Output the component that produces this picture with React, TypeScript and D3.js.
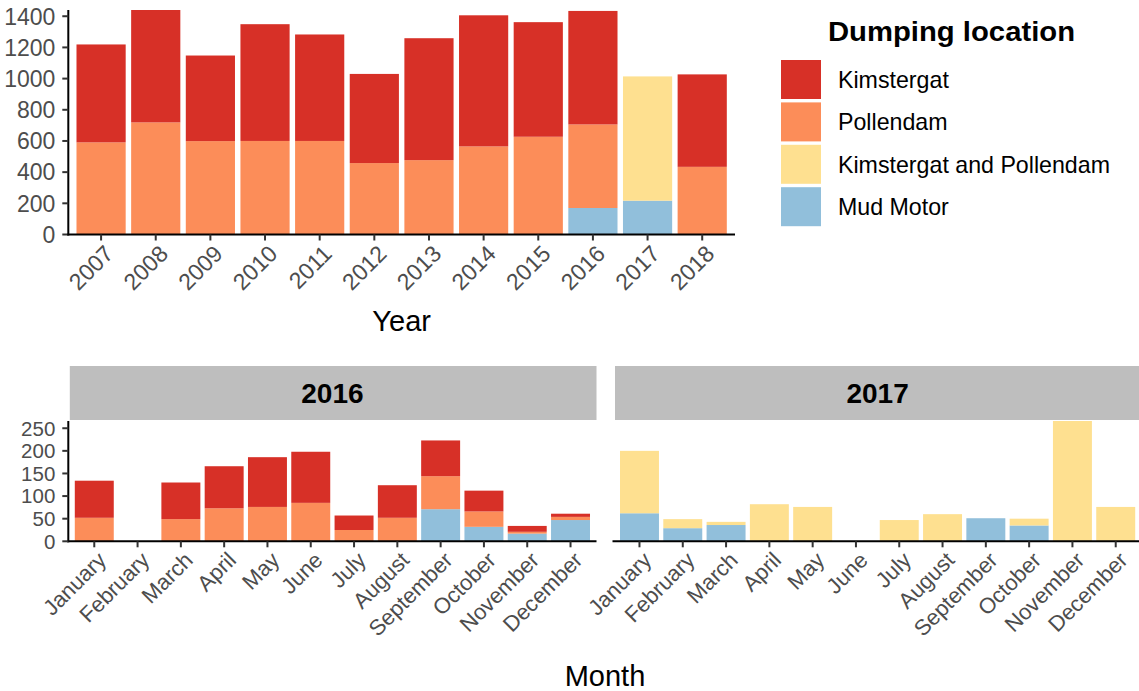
import React from "react";
import * as d3 from "d3";

const years = ["2007","2008","2009","2010","2011","2012","2013","2014","2015","2016","2017","2018"];
const yearKimstergat = [628, 721, 549, 749, 683, 572, 782, 841, 735, 728, 0, 593];
const yearPollendam = [591, 719, 599, 600, 600, 458, 477, 565, 627, 536, 0, 434];
const yearBoth = [0, 0, 0, 0, 0, 0, 0, 0, 0, 0, 797, 0];
const yearMud = [0, 0, 0, 0, 0, 0, 0, 0, 0, 170, 217, 0];
const yearTicks = [0, 200, 400, 600, 800, 1000, 1200, 1400];

const months = ["January","February","March","April","May","June","July","August","September","October","November","December"];
const facets = ["2016", "2017"];
const m2016Kimstergat = [82, 0, 81, 93, 110, 113, 32, 72, 79, 46, 13, 7];
const m2016Pollendam = [52, 0, 49, 73, 76, 85, 25, 52, 73, 34, 4, 7];
const m2016Both = [0, 0, 0, 0, 0, 0, 0, 0, 0, 0, 0, 0];
const m2016Mud = [0, 0, 0, 0, 0, 0, 0, 0, 71, 32, 17, 47];
const m2017Kimstergat = [0, 0, 0, 0, 0, 0, 0, 0, 0, 0, 0, 0];
const m2017Pollendam = [0, 0, 0, 0, 0, 0, 0, 0, 0, 0, 0, 0];
const m2017Both = [138, 20, 7, 82, 76, 0, 47, 60, 0, 15, 266, 76];
const m2017Mud = [62, 29, 36, 0, 0, 0, 0, 0, 51, 35, 0, 0];
const monthTicks = [0, 50, 100, 150, 200, 250];

const locations = ["Kimstergat", "Pollendam", "Kimstergat and Pollendam", "Mud Motor"];
const colors = ["#D73027", "#FC8D59", "#FEE090", "#91BFDB"];

const FONT = "'Liberation Sans', Arial, Helvetica, sans-serif";
const TICK_COLOR = "#4D4D4D";

type Row = { cat: string; [k: string]: number | string };

function buildRows(cats: string[], k: number[], p: number[], b: number[], m: number[]): Row[] {
  return cats.map((c, i) => ({
    cat: c,
    "Kimstergat": k[i],
    "Pollendam": p[i],
    "Kimstergat and Pollendam": b[i],
    "Mud Motor": m[i],
  }));
}

// stacking order bottom->top: Mud Motor, K&P, Pollendam, Kimstergat
const stackKeys = [...locations].reverse();

function Bars({ rows, x, y }: { rows: Row[]; x: d3.ScaleBand<string>; y: d3.ScaleLinear<number, number> }) {
  const series = d3.stack<Row>().keys(stackKeys).value((d, key) => d[key] as number)(rows);
  return (
    <g>
      {series.map((s) => {
        const ci = locations.indexOf(s.key);
        return s.map((d, i) => {
          const h = y(d[0]) - y(d[1]);
          if (h <= 0) return null;
          return (
            <rect key={s.key + i} x={x(rows[i].cat)} width={x.bandwidth()} y={y(d[1])} height={h} fill={colors[ci]} />
          );
        });
      })}
    </g>
  );
}

function XAxis({ x, y0, labels, fontSize }: { x: d3.ScaleBand<string>; y0: number; labels: string[]; fontSize: number }) {
  const [r0, r1] = x.range();
  return (
    <g>
      <line x1={r0 - 1} x2={r1} y1={y0} y2={y0} stroke="#000" strokeWidth={2} />
      {labels.map((l) => {
        const cx = (x(l) as number) + x.bandwidth() / 2;
        return (
          <g key={l}>
            <line x1={cx} x2={cx} y1={y0} y2={y0 + 6} stroke="#333" strokeWidth={2} />
            <text
              transform={`translate(${cx + 2},${y0 + 9}) rotate(-45)`}
              textAnchor="end"
              dy="0.72em"
              fontSize={fontSize}
              fill={TICK_COLOR}
              fontFamily={FONT}
            >
              {l}
            </text>
          </g>
        );
      })}
    </g>
  );
}

function YAxis({ y, x0, ticks, fontSize }: { y: d3.ScaleLinear<number, number>; x0: number; ticks: number[]; fontSize: number }) {
  const [d0, d1] = y.range();
  return (
    <g>
      <line x1={x0} x2={x0} y1={d0 + 1} y2={d1} stroke="#000" strokeWidth={2} />
      {ticks.map((t) => (
        <g key={t}>
          <line x1={x0 - 6} x2={x0} y1={y(t)} y2={y(t)} stroke="#333" strokeWidth={2} />
          <text x={x0 - 13} y={y(t)} dy="0.36em" textAnchor="end" fontSize={fontSize} fill={TICK_COLOR} fontFamily={FONT}>
            {t}
          </text>
        </g>
      ))}
    </g>
  );
}

export default function App() {
  // Top chart
  const yearRows = buildRows(years, yearKimstergat, yearPollendam, yearBoth, yearMud);
  const yearMax = d3.max(yearRows, (r) => stackKeys.reduce((s, k) => s + (r[k] as number), 0)) as number;
  const xTop = d3.scaleBand<string>().domain(years).range([68.3, 735]).paddingInner(0.1).paddingOuter(0.15);
  const yTop = d3.scaleLinear().domain([0, yearMax]).range([234.5, 10]);

  // Bottom chart
  const rows2016 = buildRows(months, m2016Kimstergat, m2016Pollendam, m2016Both, m2016Mud);
  const rows2017 = buildRows(months, m2017Kimstergat, m2017Pollendam, m2017Both, m2017Mud);
  const allMonthRows = [...rows2016, ...rows2017];
  const monthMax = d3.max(allMonthRows, (r) => stackKeys.reduce((s, k) => s + (r[k] as number), 0)) as number;
  const yBot = d3.scaleLinear().domain([0, monthMax]).range([541.3, 421]);
  const panelRanges: [number, number][] = [
    [68.3, 596.5],
    [613.5, 1141.7],
  ];
  const xBots = panelRanges.map((r) =>
    d3.scaleBand<string>().domain(months).range(r).paddingInner(0.1).paddingOuter(0.15)
  );
  const panelRows = [rows2016, rows2017];

  const keyY0 = 60;
  const keyStep = 42.4;

  return (
    <svg
      width={1139}
      height={691}
      style={{ position: "absolute", left: 0, top: 0, background: "#fff" }}
      fontFamily={FONT}
    >
      <rect x={0} y={0} width={1139} height={691} fill="#fff" />
      {/* Top chart */}
      <Bars rows={yearRows} x={xTop} y={yTop} />
      <YAxis y={yTop} x0={68.3} ticks={yearTicks} fontSize={23} />
      <XAxis x={xTop} y0={234.5} labels={years} fontSize={23} />
      <text x={(68.3 + 735) / 2} y={331} textAnchor="middle" fontSize={29} fill="#000">
        Year
      </text>

      {/* Legend */}
      <text x={828} y={41} fontSize={27} fontWeight="bold" fill="#000" textLength={247} lengthAdjust="spacingAndGlyphs">
        Dumping location
      </text>
      {locations.map((l, i) => (
        <g key={l}>
          <rect x={781} y={keyY0 + i * keyStep} width={40} height={39} fill={colors[i]} />
          <text x={838} y={keyY0 + i * keyStep + 19.5} dy="0.36em" fontSize={23.2} fill="#000">
            {l}
          </text>
        </g>
      ))}

      {/* Bottom facets */}
      {facets.map((f, pi) => {
        const [r0, r1] = panelRanges[pi];
        return (
          <g key={f}>
            <rect x={r0 + 1.5} y={366} width={r1 - r0 - 1.5} height={54} fill="#BEBEBE" />
            <text x={(r0 + r1) / 2} y={393} dy="0.36em" textAnchor="middle" fontSize={28} fontWeight="bold" fill="#000">
              {f}
            </text>
            <Bars rows={panelRows[pi]} x={xBots[pi]} y={yBot} />
            <XAxis x={xBots[pi]} y0={541.3} labels={months} fontSize={22} />
          </g>
        );
      })}
      <YAxis y={yBot} x0={68.3} ticks={monthTicks} fontSize={20.5} />
      <text x={(68.3 + 1141.7) / 2} y={686} textAnchor="middle" fontSize={29} fill="#000">
        Month
      </text>
    </svg>
  );
}
